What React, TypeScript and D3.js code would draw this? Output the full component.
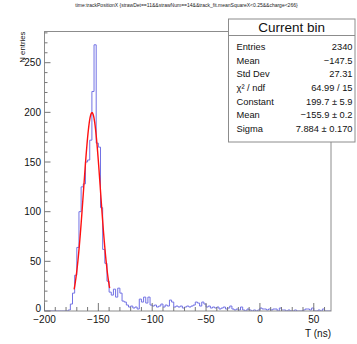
import React from "react";
import * as d3 from "d3";

// Histogram binning: 2 ns bins over [-200, 66]
const histMin = -200;
const histMax = 66;
const binWidth = 2;
// Bin contents starting at the bin whose low edge is -178 ns
const countsStart = -178;
const counts = [
  1, 7, 18, 36, 64, 100, 125, 128, 150, 152, 172, 221, 268, 169, 165, 104, 62, 48, 30, 19,
  16, 22, 14, 23, 18, 10, 9, 6, 4, 5, 3, 4, 2, 12, 9, 14, 8, 14, 6, 5,
  6, 4, 5, 7, 4, 6, 5, 11, 9, 4, 5, 4, 5, 3, 4, 5, 4, 5, 6, 9,
  8, 5, 9, 7, 4, 5, 3, 4, 3, 4, 2, 3, 4, 2, 3, 5, 2, 1, 2, 1,
  4, 1, 0, 2, 1, 0, 1, 0, 1, 3, 2, 2, 1, 2, 1, 2, 2, 0, 3, 1,
  1, 0, 1, 0, 0, 1, 0, 0, 0, 1, 2, 2, 1, 3, 0, 0, 1, 0, 2, 0,
  0, 0,
];

// Gaussian fit result
const fitConstant = 199.7;
const fitMean = -155.9;
const fitSigma = 7.884;
const fitRange = [-172.5, -139.5];

const xMajorTicks = [-200, -150, -100, -50, 0, 50];
const yMajorTicks = [0, 50, 100, 150, 200, 250];

const titleText =
  "time:trackPositionX  {strawDet==11&&strawNum==14&&track_fit.meanSquareX<0.25&&charge<266}";
const statsTitle = "Current bin";
const statsLabels = ["Entries", "Mean", "Std Dev", "χ² / ndf", "Constant", "Mean", "Sigma"];
const statsValues = [
  "2340",
  "−147.5",
  "27.31",
  "64.99 / 15",
  "199.7 ± 5.9",
  "−155.9 ± 0.2",
  "7.884 ± 0.170",
];

const W = 357;
const H = 344;
const frame = { left: 44.5, right: 331, top: 31.5, bottom: 311 };
const font = "'Liberation Sans', Arial, Helvetica, sans-serif";

const fmt = (v: number) => (v < 0 ? "−" + Math.abs(v) : String(v));

export default function App() {
  const nBins = Math.round((histMax - histMin) / binWidth);
  const bins = d3.range(nBins).map((i) => {
    const lo = histMin + i * binWidth;
    const idx = Math.round((lo - countsStart) / binWidth);
    const c = idx >= 0 && idx < counts.length ? counts[idx] : 0;
    return { lo, hi: lo + binWidth, c };
  });
  const peak = d3.max(bins, (b) => b.c) as number;

  const x = d3.scaleLinear().domain([histMin, histMax]).range([frame.left, frame.right]);
  const y = d3.scaleLinear().domain([0, peak * 1.05]).range([frame.bottom, frame.top]);

  const stepPts: [number, number][] = [];
  bins.forEach((b) => {
    stepPts.push([x(b.lo), y(b.c)]);
    stepPts.push([x(b.hi), y(b.c)]);
  });
  const histPath = d3.line()(stepPts) as string;

  const gauss = (t: number) =>
    fitConstant * Math.exp(-0.5 * Math.pow((t - fitMean) / fitSigma, 2));
  const fitXs = d3.range(0, 101).map(
    (i) => fitRange[0] + ((fitRange[1] - fitRange[0]) * i) / 100
  );
  const fitPath = d3
    .line<number>()
    .x((t) => x(t))
    .y((t) => y(gauss(t)))
    .curve(d3.curveLinear)(fitXs) as string;

  const xMinor = d3.range(histMin, histMax, 10).filter((v) => !xMajorTicks.includes(v));
  const yMinor = d3.range(0, peak * 1.05, 10).filter((v) => !yMajorTicks.includes(v));

  const box = { left: 228.5, right: 355, top: 19, headerBottom: 35.5, bottom: 142 };
  const rowY0 = 47.2;
  const rowStep = 13.6;

  return (
    <svg
      width={W}
      height={H}
      style={{ position: "absolute", left: 0, top: 0, background: "#fff" }}
      fontFamily={font}
    >
      <rect width={W} height={H} fill="#fff" />
      <text x={186.5} y={7} fontSize={5} textAnchor="middle" fill="#222">
        {titleText}
      </text>

      <clipPath id="plotclip">
        <rect
          x={frame.left}
          y={frame.top}
          width={frame.right - frame.left}
          height={frame.bottom - frame.top}
        />
      </clipPath>
      <g clipPath="url(#plotclip)">
        <path d={histPath} fill="none" stroke="#7272e4" strokeWidth={1} />
        <path d={fitPath} fill="none" stroke="#ff1010" strokeWidth={1.4} />
      </g>

      {/* frame */}
      <rect
        x={frame.left}
        y={frame.top}
        width={frame.right - frame.left}
        height={frame.bottom - frame.top}
        fill="none"
        stroke="#8c8c8c"
        strokeWidth={1}
      />

      {/* x axis ticks */}
      {xMajorTicks.map((v) => (
        <g key={"xm" + v}>
          <line x1={x(v)} x2={x(v)} y1={frame.bottom} y2={frame.bottom - 8} stroke="#777" />
          <text x={x(v)} y={323} fontSize={10} textAnchor="middle" fill="#111">
            {fmt(v)}
          </text>
        </g>
      ))}
      {xMinor.map((v) => (
        <line
          key={"xn" + v}
          x1={x(v)}
          x2={x(v)}
          y1={frame.bottom}
          y2={frame.bottom - 4}
          stroke="#777"
        />
      ))}

      {/* y axis ticks */}
      {yMajorTicks.map((v) => (
        <g key={"ym" + v}>
          <line x1={frame.left} x2={frame.left + 6} y1={y(v)} y2={y(v)} stroke="#777" />
          <text
            x={41}
            y={y(v) - (v === 0 ? 3 : 0)}
            fontSize={10}
            textAnchor="end"
            dominantBaseline="central"
            fill="#111"
          >
            {fmt(v)}
          </text>
        </g>
      ))}
      {yMinor.map((v) => (
        <line
          key={"yn" + v}
          x1={frame.left}
          x2={frame.left + 3}
          y1={y(v)}
          y2={y(v)}
          stroke="#777"
        />
      ))}

      {/* axis titles */}
      <text
        transform={`translate(24.5,${frame.top}) rotate(-90)`}
        fontSize={7.8}
        textAnchor="end"
        fill="#111"
      >
        N entries
      </text>
      <text x={frame.right} y={337} fontSize={10} textAnchor="end" fill="#111">
        T (ns)
      </text>

      {/* statistics box */}
      <rect
        x={box.left}
        y={box.top}
        width={box.right - box.left}
        height={box.bottom - box.top}
        fill="#fff"
        stroke="#8c8c8c"
        strokeWidth={1}
      />
      <line
        x1={box.left}
        x2={box.right}
        y1={box.headerBottom}
        y2={box.headerBottom}
        stroke="#8c8c8c"
      />
      <text
        x={(box.left + box.right) / 2}
        y={(box.top + box.headerBottom) / 2}
        fontSize={13.5}
        textAnchor="middle"
        dominantBaseline="central"
        fill="#111"
      >
        {statsTitle}
      </text>
      {statsLabels.map((lab, i) => (
        <g key={"st" + i}>
          <text
            x={236.5}
            y={rowY0 + i * rowStep}
            fontSize={9.3}
            dominantBaseline="central"
            fill="#111"
          >
            {lab}
          </text>
          <text
            x={352.5}
            y={rowY0 + i * rowStep}
            fontSize={9.3}
            textAnchor="end"
            dominantBaseline="central"
            fill="#111"
          >
            {statsValues[i]}
          </text>
        </g>
      ))}
    </svg>
  );
}
